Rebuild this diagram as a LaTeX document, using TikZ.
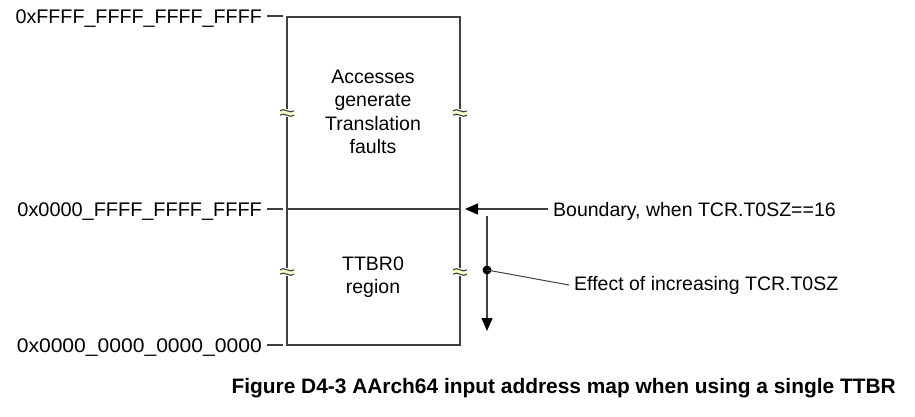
\documentclass[tikz,border=0pt]{standalone}
\usepackage{fontspec}
\setmainfont{Liberation Sans}
\usetikzlibrary{arrows.meta}
\definecolor{ln}{HTML}{404040}
\definecolor{brk}{HTML}{FFF8C8}
\begin{document}
\begin{tikzpicture}[x=1pt,y=-1pt,
  lbl/.style={inner sep=0pt,font=\fontsize{19.5}{23.5}\selectfont},
  addr/.style={inner sep=0pt,font=\fontsize{19.7}{23.5}\selectfont},
  boxline/.style={draw=ln,line width=1.3pt},
  tick/.style={draw=ln,line width=1.3pt},
  arr/.style={draw=ln,line width=1.3pt,-{Triangle[length=13pt,width=11pt,color=black]}},
  breakmark/.pic={
    \fill[white] (-7,-4) rectangle (7,4);
    \fill[brk] (-7,-2.2) .. controls (-3,-6) and (3,1.5) .. (7,-2.2) -- (7,2.2) .. controls (3,6) and (-3,-1.5) .. (-7,2.2) -- cycle;
    \draw[ln,line width=1.1pt] (-7,-2.2) .. controls (-3,-6) and (3,1.5) .. (7,-2.2);
    \draw[ln,line width=1.1pt] (-7,2.2) .. controls (-3,-1.5) and (3,6) .. (7,2.2);
  }]
\useasboundingbox (0,0) rectangle (915,416);
% box
\coordinate (tl) at (287,17);
\coordinate (tr) at (460,17);
\coordinate (ml) at (287,209);
\coordinate (mr) at (460,209);
\coordinate (bl) at (287,345);
\coordinate (br) at (460,345);
\draw[boxline] (tl) rectangle (br);
\draw[boxline] (ml) -- (mr);
% break marks
\pic at (287,113) {breakmark};
\pic at (460,113) {breakmark};
\pic at (287,272) {breakmark};
\pic at (460,272) {breakmark};
% left labels and ticks
\node[addr,anchor=base east] (a1) at (262,23) {0xFFFF\_FFFF\_FFFF\_FFFF};
\node[addr,anchor=base east] (a2) at (262,216) {\scalebox{1.01}[1]{0x0000\_FFFF\_FFFF\_FFFF}};
\node[addr,anchor=base east] (a3) at (262,352) {\scalebox{1.07}[1]{0x0000\_0000\_0000\_0000}};
\coordinate (t1a) at (267,16); \coordinate (t1b) at (283,16);
\coordinate (t2a) at (267,209); \coordinate (t2b) at (283,209);
\coordinate (t3a) at (267,345); \coordinate (t3b) at (283,345);
\draw[tick] (t1a) -- (t1b);
\draw[tick] (t2a) -- (t2b);
\draw[tick] (t3a) -- (t3b);
% region texts
\node[lbl,align=center] (r1) at (373,112) {Accesses\\generate\\Translation\\faults};
\node[lbl,align=center] (r2) at (373,277) {TTBR0\\region};
% right annotations
\node[lbl,anchor=base west] (bnd) at (553,216) {Boundary, when TCR.T0SZ==16};
\node[lbl,anchor=base west] (eff) at (574,290) {Effect of increasing TCR.T0SZ};
\coordinate (bs) at (548,209);
\coordinate (be) at (465,209);
\draw[arr] (bs) -- (be);
\coordinate (vs) at (487,216);
\coordinate (ve) at (487,331);
\draw[arr] (vs) -- (ve);
\coordinate (dot) at (487,270);
\fill[black] (dot) circle (4.5);
\coordinate (ee) at (569,285);
\draw[ln,line width=1pt] (dot) -- (ee);
% caption
\node[inner sep=0pt,anchor=base east,font=\fontsize{20.9}{24}\selectfont\bfseries] (cap) at (896,393) {Figure D4-3 AArch64 input address map when using a single TTBR};
\end{tikzpicture}
\end{document}
